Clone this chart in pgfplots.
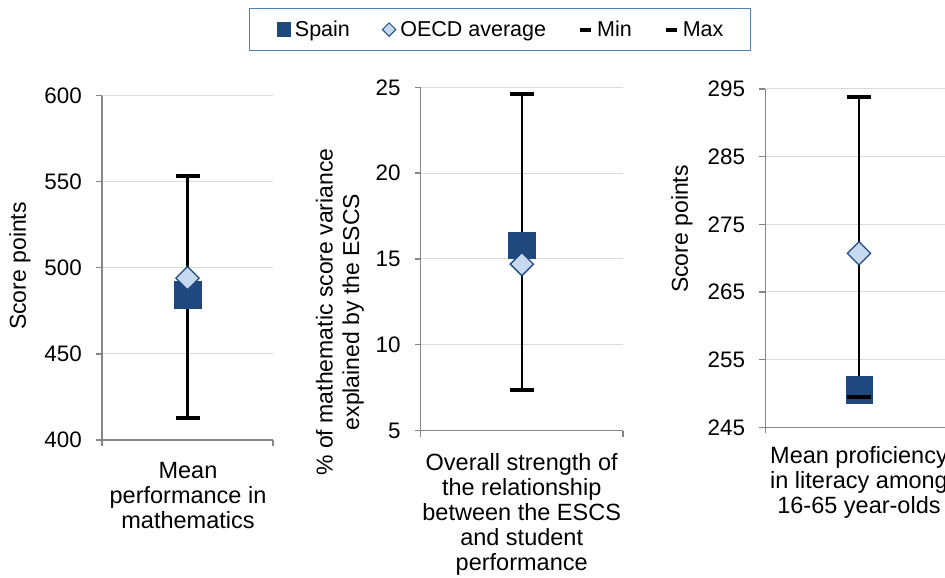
\documentclass[border=0pt]{standalone}
\usepackage{fontspec}
\setmainfont{Liberation Sans}
\usepackage{pgfplots}
\pgfplotsset{compat=1.18}
\definecolor{spainblue}{RGB}{31,73,125}
\definecolor{oecdfill}{RGB}{198,217,241}
\definecolor{gridgray}{RGB}{217,217,217}
\definecolor{axisgray}{RGB}{134,134,134}
\definecolor{legblue}{RGB}{79,129,189}
\newcommand\fs{\fontsize{22.4}{25}\selectfont}
\newcommand\fcat{\fontsize{23.5}{25}\selectfont}
\newcommand\flab{\fontsize{23}{26.5}\selectfont}
\newcommand\fleg{\fontsize{21.5}{25}\selectfont}
\pgfplotsset{
 panel/.style={
  scale only axis, anchor=south west,
  xmin=0, xmax=2,
  axis lines*=left,
  axis line style={draw=axisgray, line width=1.3pt},
  xtick={0,2}, xticklabels={},
  major tick length=6pt, tick align=outside,
  tick style={draw=axisgray, line width=1.3pt},
  ymajorgrids, grid style={draw=gridgray, line width=1pt},
  yticklabel style={font=\fs, anchor=east, inner sep=0pt, xshift=-14pt},
  /pgf/number format/assume math mode=true,
  clip=false,
 },
 rng/.style={black, line width=2.2pt, forget plot},
 spain/.style={only marks, mark=square*, mark size=13.3pt,
   mark options={fill=spainblue, draw=spainblue, line width=0.4pt},
   legend image code/.code={\fill[spainblue] (0pt,-7pt) rectangle (13pt,7pt);}},
 oecd/.style={only marks, mark=square*, mark size=8.2pt,
   mark options={rotate=45, fill=oecdfill, draw=spainblue, line width=1.3pt},
   legend image code/.code={\filldraw[fill=oecdfill, draw=spainblue, line width=1pt] (6.7pt,-6.7pt) -- (13.4pt,0pt) -- (6.7pt,6.7pt) -- (0pt,0pt) -- cycle;}},
 cap/.style={only marks, mark=-, mark size=12pt,
   mark options={line width=3.8pt, draw=black},
   legend image code/.code={\draw[black, line width=4pt] (0pt,0pt) -- (11pt,0pt);}},
}
\begin{document}
\begin{tikzpicture}
\useasboundingbox (0,0) rectangle (945pt,578pt);
\clip (0,0) rectangle (945pt,578pt);
% Panel 1
\begin{axis}[panel, at={(102pt,138pt)}, width=171pt, height=344.3pt,
  ymin=400, ymax=600, ytick={400,450,500,550,600}]
\addplot[rng] coordinates {(1,413) (1,553.5)};
\addplot[spain] coordinates {(1,484.3)};
\addplot[oecd] coordinates {(1,494)};
\addplot[cap] coordinates {(1,413)};
\addplot[cap] coordinates {(1,553.5)};
\end{axis}
% Panel 2
\begin{axis}[panel, at={(420.7pt,147.3pt)}, width=202.3pt, height=343.4pt,
  ymin=5, ymax=25, ytick={5,10,15,20,25},
  legend style={at={(0.392,1.168)}, anchor=center, legend columns=-1,
    draw=legblue, line width=1.3pt, font=\fleg, inner xsep=27pt, inner ysep=12.5pt,
    nodes={inner sep=0pt},
    /tikz/every odd column/.append style={column sep=4pt},
    /tikz/every even column/.append style={column sep=32pt}}]
\addplot[rng] coordinates {(1,7.35) (1,24.6)};
\addplot[spain] coordinates {(1,15.8)};
\addplot[oecd] coordinates {(1,14.7)};
\addplot[cap] coordinates {(1,7.35)};
\addplot[cap] coordinates {(1,24.6)};
\legend{Spain\hspace{16pt},OECD average,Min,Max}
\end{axis}
% Panel 3
\begin{axis}[panel, at={(765.3pt,150.7pt)}, width=187.4pt, height=338.3pt,
  ymin=245, ymax=295, ytick={245,255,265,275,285,295}]
\addplot[rng] coordinates {(1,249.5) (1,293.8)};
\addplot[spain] coordinates {(1,250.6)};
\addplot[oecd] coordinates {(1,270.7)};
\addplot[cap] coordinates {(1,249.5)};
\addplot[cap] coordinates {(1,293.8)};
\end{axis}
% axis titles
\node[font=\flab, rotate=90] at (20pt,312pt) {Score points};
\node[font=\flab, rotate=90, align=center] at (340pt,266pt) {\% of mathematic score variance\\explained by the ESCS};
\node[font=\flab, rotate=90] at (682pt,349pt) {Score points};
% category labels
\node[font=\fcat, align=center, anchor=north, inner sep=0pt] at (188pt,116.3pt) {Mean\\performance in\\mathematics};
\node[font=\fcat, align=center, anchor=north, inner sep=0pt] at (521.7pt,124.7pt) {Overall strength of\\the relationship\\between the ESCS\\and student\\performance};
\node[font=\fcat, align=center, anchor=north, inner sep=0pt] at (859pt,131.3pt) {Mean proficiency\\in literacy among\\16-65 year-olds};
\end{tikzpicture}
\end{document}
